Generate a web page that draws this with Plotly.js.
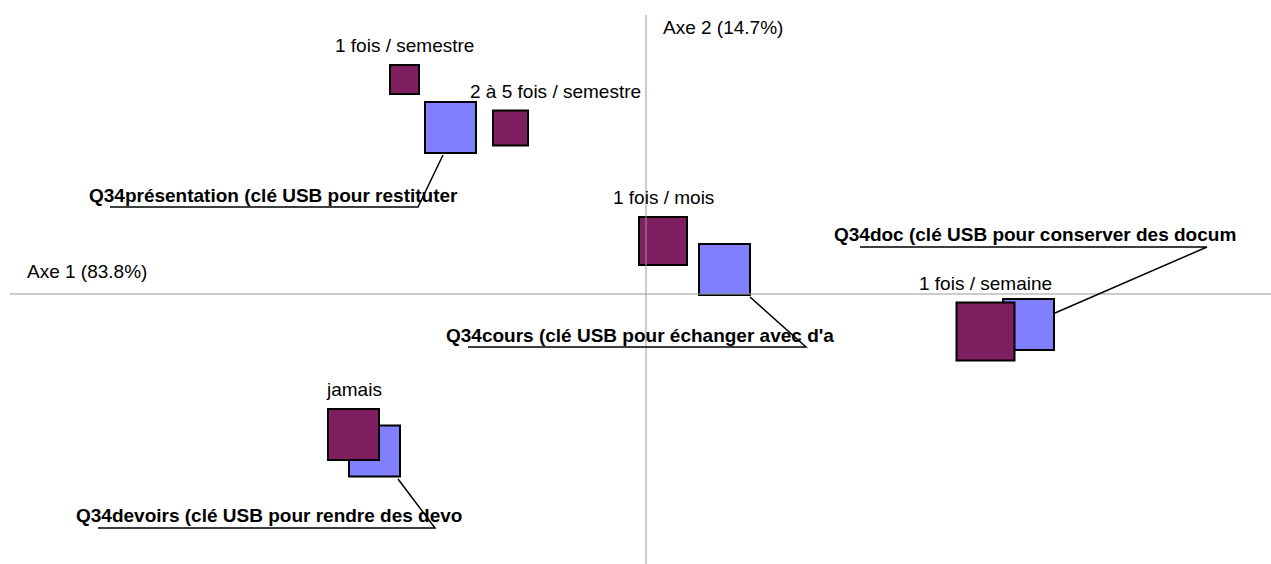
<!DOCTYPE html>
<html><head><meta charset="utf-8">
<script src="https://cdn.plot.ly/plotly-3.0.1.min.js"></script>
<style>html,body{margin:0;padding:0;background:#fff}#chart{width:1271px;height:564px}</style>
</head><body><div id="chart"></div>
<script>
// ---- DATA ----
// Row categories: frequency of use
const freqLabels = ["1 fois / semestre", "2 à 5 fois / semestre", "1 fois / mois", "1 fois / semaine", "jamais"];
const freqAxe1 = [-0.483, -0.271, 0.034, 0.679, -0.585];
const freqAxe2 = [0.429, 0.332, 0.106, -0.075, -0.281];
const freqMass = [29, 35, 48, 58, 51];
// Column categories: USB key uses
const useLabels = ["Q34présentation (clé USB pour restituter", "Q34cours (clé USB pour échanger avec d'a", "Q34doc (clé USB pour conserver des docum", "Q34devoirs (clé USB pour rendre des devo"];
const useAxe1 = [-0.391, 0.157, 0.765, -0.543];
const useAxe2 = [0.333, 0.049, -0.061, -0.314];
const useMass = [51, 51, 51, 51];
const axisTitles = ["Axe 1 (83.8%)", "Axe 2 (14.7%)"];

// ---- LAYOUT CONFIG ----
const W = 1271, H = 564, PX = 500, OX = 646, OY = 294;
const xRange = [-OX / PX, (W - OX) / PX];
const yRange = [-(H - OY) / PX, OY / PX];
const FONT = "Liberation Sans, Arial, sans-serif";
const FS = 19;
const purple = "#7F1F5F", blue = "#8080FF";
const freqLabelDx = [0, 45, 0, 0, 0];
// callout geometry in pixels relative to the mark centre (y downward)
const callouts = [
  {tx: -362.5, ty: 67.5, u0: -340.5, ex: -32.5, ey: 79.5, bx: -7.5, by: 27.5},
  {tx: -279.5, ty: 65.5, u0: -256.5, ex: 81.5, ey: 77.5, bx: 25.5, by: 27.5},
  {tx: -195.5, ty: -90.5, u0: -168.5, ex: 178.5, ey: -77.5, bx: 26.5, by: -11.5},
  {tx: -299.5, ty: 64, u0: -276.5, ex: 60.5, ey: 77, bx: 23.5, by: 28}
];

const traces = [
  {x: useAxe1, y: useAxe2, type: "scatter", mode: "markers", hoverinfo: "skip",
   marker: {symbol: "square", size: useMass, color: blue, opacity: 1, line: {color: "#000", width: 2}}},
  {x: freqAxe1, y: freqAxe2, type: "scatter", mode: "markers", hoverinfo: "skip",
   marker: {symbol: "square", size: freqMass, color: purple, opacity: 1, line: {color: "#000", width: 2}}}
];

const shapes = [
  {type: "line", xref: "x", yref: "y", x0: (10 - OX) / PX, x1: xRange[1], y0: 0, y1: 0, line: {color: "#999", width: 1}},
  {type: "line", xref: "x", yref: "y", x0: 0, x1: 0, y0: (OY - 15) / PX, y1: yRange[0], line: {color: "#999", width: 1}}
];
const annotations = [
  {xref: "x", yref: "y", x: (25 - OX) / PX, y: 0, yshift: 23, xanchor: "left", yanchor: "middle", showarrow: false,
   text: axisTitles[0], font: {family: FONT, size: FS, color: "#000"}},
  {xref: "x", yref: "y", x: 0, y: yRange[1], xshift: 15, yshift: -27, xanchor: "left", yanchor: "middle", showarrow: false,
   text: axisTitles[1], font: {family: FONT, size: FS, color: "#000"}}
];

freqLabels.forEach((t, i) => {
  annotations.push({xref: "x", yref: "y", x: freqAxe1[i], y: freqAxe2[i], xanchor: "center", yanchor: "middle",
    xshift: freqLabelDx[i], yshift: freqMass[i] / 2 + 19.5, showarrow: false, text: t,
    font: {family: FONT, size: FS, color: "#000"}});
});

useLabels.forEach((t, i) => {
  const c = callouts[i], mx = useAxe1[i], my = useAxe2[i];
  annotations.push({xref: "x", yref: "y", x: mx, y: my, xanchor: "left", yanchor: "middle",
    xshift: c.tx - 1, yshift: -c.ty, showarrow: false, text: "<b>" + t + "</b>",
    font: {family: FONT, size: FS, color: "#000"}});
  const p = (dx, dy) => (mx + dx / PX) + "," + (my - dy / PX);
  shapes.push({type: "path", xref: "x", yref: "y",
    path: "M" + p(c.u0, c.ey) + " L" + p(c.ex, c.ey) + " L" + p(c.bx, c.by),
    line: {color: "#000", width: 1.5}});
});

const layout = {
  width: W, height: H, margin: {l: 0, r: 0, t: 0, b: 0},
  paper_bgcolor: "#fff", plot_bgcolor: "#fff", showlegend: false,
  xaxis: {range: xRange, visible: false, fixedrange: true},
  yaxis: {range: yRange, visible: false, fixedrange: true},
  shapes: shapes, annotations: annotations, hovermode: false
};
Plotly.newPlot("chart", traces, layout, {staticPlot: true, displayModeBar: false});
</script></body></html>
